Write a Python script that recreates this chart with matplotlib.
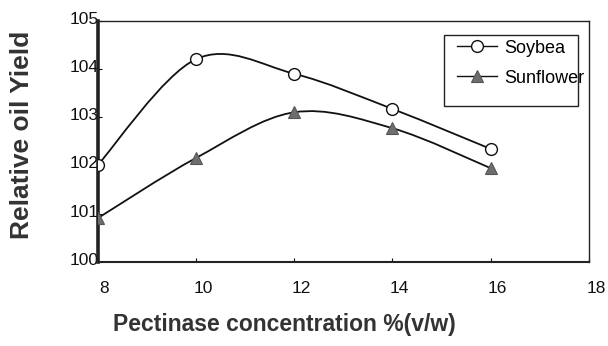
import numpy as np
import matplotlib.pyplot as plt
import matplotlib.transforms as mtransforms
from matplotlib.path import Path
from matplotlib.patches import PathPatch, Rectangle

plt.rcParams['font.family'] = ['Liberation Sans', 'DejaVu Sans']

conc = [8, 10, 12, 14, 16]
soybean = [102.0, 104.2, 103.9, 103.17, 102.34]
sunflower = [100.9, 102.15, 103.1, 102.77, 101.94]
xticks = [8, 10, 12, 14, 16, 18]
yticks = [100, 101, 102, 103, 104, 105]


def smooth_path(x, y, k=1/6):
    # catmull-rom style bezier through the points
    x = np.asarray(x, float)
    y = np.asarray(y, float)
    verts = [(x[0], y[0])]
    codes = [Path.MOVETO]
    n = len(x)
    for i in range(n - 1):
        i0 = max(i - 1, 0)
        i3 = min(i + 2, n - 1)
        c1 = (x[i] + (x[i + 1] - x[i0]) * k, y[i] + (y[i + 1] - y[i0]) * k)
        c2 = (x[i + 1] - (x[i3] - x[i]) * k, y[i + 1] - (y[i3] - y[i]) * k)
        verts += [c1, c2, (x[i + 1], y[i + 1])]
        codes += [Path.CURVE4] * 3
    return Path(verts, codes)


fig = plt.figure(figsize=(6.08, 3.46), dpi=100)
ax = fig.add_axes([0.1604, 0.2436, 0.8084, 0.6965])

for yv in (soybean, sunflower):
    ax.add_patch(PathPatch(smooth_path(conc, yv), fill=False, lw=1.3, ec='#111111', zorder=2))

circ = dict(marker='o', ms=8.5, mfc='white', mec='#111111', mew=1.0)
tri = dict(marker='^', ms=8, mfc='#6e6e6e', mec='#555555', mew=0.8)
ax.plot(conc, soybean, ls='none', zorder=3, **circ)
ax.plot(conc, sunflower, ls='none', zorder=3, **tri)

# legend proxies
ax.plot([], [], color='#111111', lw=1.0, label='Soybea', **circ)
ax.plot([], [], color='#111111', lw=1.0, label='Sunflower', **tri)

ax.set_xlim(8, 18)
ax.set_ylim(100, 105)
ax.set_xticks(xticks)
ax.set_yticks(yticks)
ax.tick_params(direction='in', length=3, width=0.8, labelsize=12.5, colors='#111111')
ax.tick_params(axis='x', pad=14)
ax.tick_params(axis='y', pad=-1)

# the scanned labels sit a little off their ticks
for lab in ax.get_xticklabels():
    lab.set_transform(lab.get_transform() +
                      mtransforms.ScaledTranslation(7 / 100, 0, fig.dpi_scale_trans))
for lab in ax.get_yticklabels():
    lab.set_transform(lab.get_transform() +
                      mtransforms.ScaledTranslation(0, 3 / 100, fig.dpi_scale_trans))

ax.spines['left'].set_linewidth(2.6)
ax.spines['bottom'].set_linewidth(1.5)
ax.spines['top'].set_linewidth(1.0)
ax.spines['right'].set_linewidth(1.0)
for s in ax.spines.values():
    s.set_color('#222222')

ax.set_xlabel('Pectinase concentration %(v/w)', fontsize=16.5, fontweight='bold',
              color='#333333', va='center')
ax.xaxis.set_label_coords(0.381, -0.2585)
ax.set_ylabel('Relative oil Yield', fontsize=19, fontweight='bold', color='#333333',
              va='center')
ax.yaxis.set_label_coords(-0.1536, 0.526)

ax.legend(loc='upper left', bbox_to_anchor=(0.731, 0.922), fontsize=13, frameon=False,
          handlelength=2.2, borderpad=0, borderaxespad=0, labelspacing=0.72,
          handletextpad=0.4)
ax.add_patch(Rectangle((0.705, 0.646), 0.273, 0.295, transform=ax.transAxes, fill=False,
                       lw=1.0, ec='#222222', zorder=4))

fig.savefig('out.png', dpi=100)
